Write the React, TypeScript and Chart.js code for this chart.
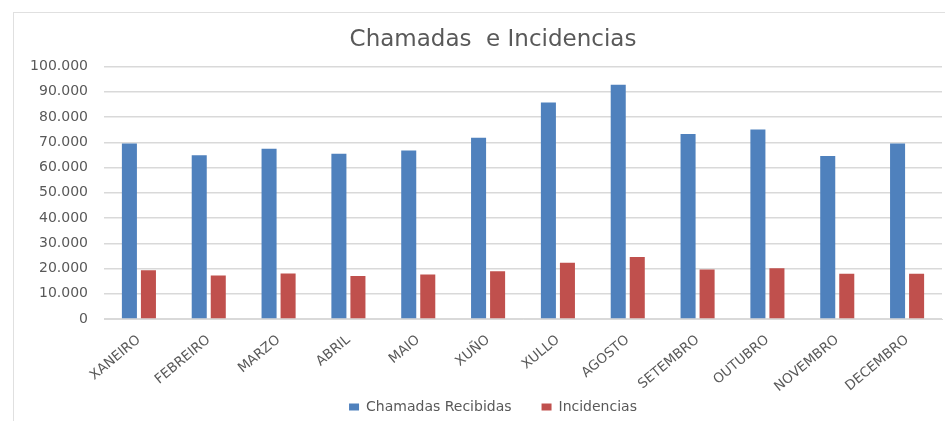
import React, { useEffect, useRef } from "react";
import { Chart, registerables } from "chart.js";

Chart.register(...registerables);

const months = [
  "XANEIRO", "FEBREIRO", "MARZO", "ABRIL", "MAIO", "XUÑO",
  "XULLO", "AGOSTO", "SETEMBRO", "OUTUBRO", "NOVEMBRO", "DECEMBRO",
];
const chamadasRecibidas = [69500, 64900, 67500, 65500, 66800, 71800, 85800, 92800, 73300, 75100, 64600, 69500];
const incidencias = [19300, 17200, 18000, 17000, 17600, 18900, 22300, 24600, 19600, 20100, 17900, 17900];

const TEXT = "#595959";
const GRID = "#d9d9d9";

function fmt(v: number): string {
  return String(Math.round(v)).replace(/\B(?=(\d{3})+(?!\d))/g, ".");
}

const noLabelClip = {
  id: "noLabelClip",
  beforeDraw(chart: any) {
    Object.values(chart.scales).forEach((s: any) => {
      s._computeLabelArea = () => undefined;
    });
  },
};

export default function App() {
  const ref = useRef<HTMLCanvasElement | null>(null);
  useEffect(() => {
    if (!ref.current) return;
    const chart = new Chart(ref.current, {
      type: "bar",
      data: {
        labels: months,
        datasets: [
          {
            label: "Chamadas Recibidas",
            data: chamadasRecibidas,
            backgroundColor: "#4F81BD",
            categoryPercentage: 0.545,
            barPercentage: 0.79,
          },
          {
            label: "Incidencias",
            data: incidencias,
            backgroundColor: "#C0504D",
            categoryPercentage: 0.545,
            barPercentage: 0.79,
          },
        ],
      },
      plugins: [noLabelClip],
      options: {
        animation: false,
        responsive: false,
        maintainAspectRatio: false,
        layout: { padding: { top: 14, right: 3, bottom: -3, left: 44 } },
        plugins: {
          title: {
            display: true,
            text: "Chamadas  e Incidencias",
            color: TEXT,
            font: { family: "DejaVu Sans", size: 23, weight: "normal" },
            padding: { top: 12, bottom: 13 },
          },
          legend: {
            position: "bottom",
            labels: {
              color: TEXT,
              font: { family: "DejaVu Sans", size: 14 },
              boxWidth: 10,
              boxHeight: 7,
              padding: 30,
            },
          },
          tooltip: { enabled: false },
        },
        scales: {
          x: {
            grid: { display: false, drawTicks: false },
            border: { display: true, color: GRID },
            ticks: {
              color: TEXT,
              font: { family: "DejaVu Sans", size: 13.5 },
              minRotation: 40,
              maxRotation: 40,
              padding: 13,
              autoSkip: false,
            },
            afterFit: (s: any) => {
              s.height = 51;
            },
          },
          y: {
            min: 0,
            max: 100000,
            border: { display: false },
            grid: { color: GRID, drawTicks: false, lineWidth: 1.5 },
            ticks: {
              stepSize: 10000,
              color: TEXT,
              font: { family: "DejaVu Sans", size: 14 },
              padding: 16,
              callback: (v: any) => fmt(Number(v)),
            },
            afterFit: (s: any) => {
              s.width = 60;
            },
          },
        },
      },
    });
    return () => chart.destroy();
  }, []);
  return (
    <div style={{ position: "absolute", left: 0, top: 0, width: 945, height: 421, background: "#fff", overflow: "hidden" }}>
      <div
        style={{
          position: "absolute",
          left: 13,
          top: 12,
          width: 940,
          height: 420,
          borderLeft: "1px solid #e0e0e0",
          borderTop: "1px solid #e0e0e0",
        }}
      />
      <canvas ref={ref} width={945} height={421} style={{ position: "absolute", left: 0, top: 0 }} />
    </div>
  );
}
